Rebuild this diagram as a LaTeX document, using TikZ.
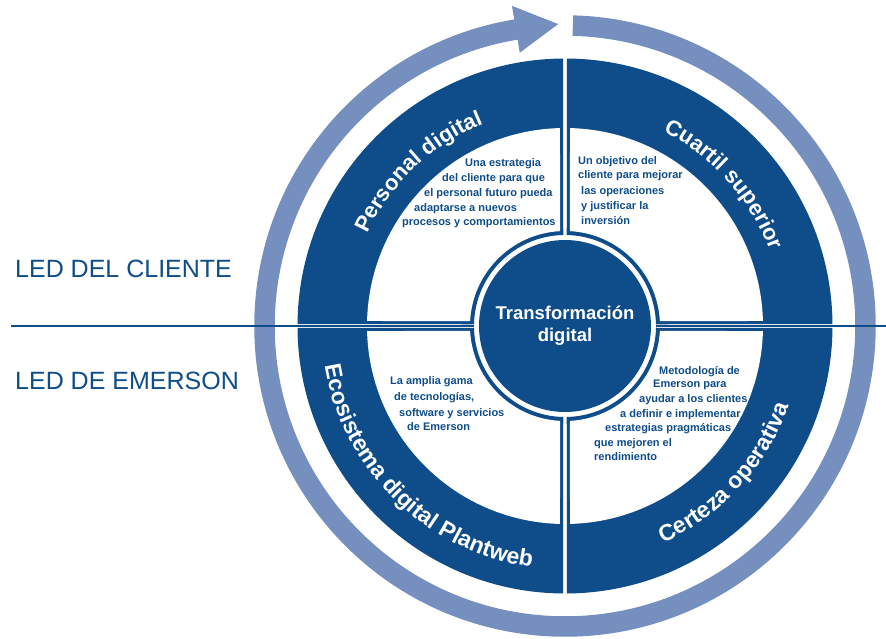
\documentclass[tikz,border=0pt]{standalone}
\usepackage{fontspec}
\setmainfont{Liberation Sans}
\usepackage{tikz}
\usetikzlibrary{decorations.text}
\definecolor{emblue}{RGB}{14,76,138}
\definecolor{ringblue}{RGB}{117,143,190}

\begin{document}
\begin{tikzpicture}[x=1pt,y=1pt,
		quad/.style = {fill=emblue},hole/.style = {fill=white},
		note/.style = {anchor=base west,inner sep=0pt,text=emblue,font=\fontsize{11}{13}\selectfont\bfseries},
		side/.style = {anchor=base west,inner sep=0pt,text=emblue,font=\fontsize{25}{30}\selectfont},
		band text/.style = {decorate,decoration={text along path,text align=center,text color=white}}
		]
		\useasboundingbox (-565,-312) rectangle (321,326);
		%ANELLO
		\draw[ringblue, line width=20.5] (88.5:300.5) arc[start angle=88.5, end angle=-260.9, radius=300.5];
		\fill[ringblue] (99.4:324.5) -- (91.3:302) -- (99.4:277) -- cycle;
		%LINEA
		\coordinate (lineL) at (-554,0);
		\coordinate (lineR) at (321,0);
		\draw[emblue, line width=1.3] (lineL) -- (lineR);
		\fill[white] (0,0) circle (91);
		%QUADRANTI
		\fill[quad] (89.6:267.5) arc[start angle=89.6, end angle=0.4, radius=267.5] -- (1.1:91) arc[start angle=1.1, end angle=88.9, radius=91] -- cycle;
		\fill[quad, rotate=90] (89.6:267.5) arc[start angle=89.6, end angle=0.4, radius=267.5] -- (1.1:91) arc[start angle=1.1, end angle=88.9, radius=91] -- cycle;
		\fill[quad, rotate=180] (89.6:267.5) arc[start angle=89.6, end angle=0.4, radius=267.5] -- (1.1:91) arc[start angle=1.1, end angle=88.9, radius=91] -- cycle;
		\fill[quad, rotate=270] (89.6:267.5) arc[start angle=89.6, end angle=0.4, radius=267.5] -- (1.1:91) arc[start angle=1.1, end angle=88.9, radius=91] -- cycle;
		\fill[hole] (88.55:198) arc[start angle=88.55, end angle=1.45, radius=198] -- (3:95) arc[start angle=3, end angle=87, radius=95] -- cycle;
		\fill[hole, rotate=90] (88.55:198) arc[start angle=88.55, end angle=1.45, radius=198] -- (3:95) arc[start angle=3, end angle=87, radius=95] -- cycle;
		\fill[hole, rotate=180] (88.55:198) arc[start angle=88.55, end angle=1.45, radius=198] -- (3:95) arc[start angle=3, end angle=87, radius=95] -- cycle;
		\fill[hole, rotate=270] (88.55:198) arc[start angle=88.55, end angle=1.45, radius=198] -- (3:95) arc[start angle=3, end angle=87, radius=95] -- cycle;
		%CERCHIO CENTRALE
		\node[circle, fill=emblue, minimum size=172, inner sep=0pt, text=white, align=center, font=\fontsize{18.5}{22}\selectfont\bfseries] (core) at (0,0) {Transformación\\digital};
		%TESTI CURVI
		\path[band text, decoration={text={|\fontsize{22}{22}\selectfont\bfseries|Personal digital}}] (175:218) arc[start angle=175, end angle=92, radius=218];
		\path[band text, decoration={text={|\fontsize{22}{22}\selectfont\bfseries|Cuartil superior}}] (83:218) arc[start angle=83, end angle=0.5, radius=218];
		\path[band text, decoration={text={|\fontsize{23}{23}\selectfont\bfseries|Ecosistema digital Plantweb}}] (170:243.5) arc[start angle=170, end angle=281.5, radius=243.5];
		\path[band text, decoration={text={|\fontsize{23}{23}\selectfont\bfseries|Certeza operativa}}] (-88:238) arc[start angle=-88, end angle=2.8, radius=238];
		%LATI
		\node[side] (client) at (-550,49) {LED DEL CLIENTE};
		\node[side] (emerson) at (-550,-63) {LED DE EMERSON};
		%Personal digital
		\node[note] (pd1) at (-100,159.5) {Una estrategia};
		\node[note] (pd2) at (-123,144.5) {del cliente para que};
		\node[note] (pd3) at (-141,129.5) {el personal futuro pueda};
		\node[note] (pd4) at (-151,114.5) {adaptarse a nuevos};
		\node[note] (pd5) at (-163,100.5) {procesos y comportamientos};
		%Cuartil superior
		\node[note] (cs1) at (13,161.5) {Un objetivo del};
		\node[note] (cs2) at (13,147.5) {cliente para mejorar};
		\node[note] (cs3) at (16,131.5) {las operaciones};
		\node[note] (cs4) at (16,116.5) {y justificar la};
		\node[note] (cs5) at (16,101.5) {inversión};
		%Ecosistema
		\node[note] (ed1) at (-175,-58.5) {La amplia gama};
		\node[note] (ed2) at (-171,-74.5) {de tecnologías,};
		\node[note] (ed3) at (-166,-90.5) {software y servicios};
		\node[note] (ed4) at (-158,-104.5) {de Emerson};
		%Certeza operativa
		\node[note] (co1) at (94,-48.5) {Metodología de};
		\node[note] (co2) at (88,-61.5) {Emerson para};
		\node[note] (co3) at (74,-76.5) {ayudar a los clientes};
		\node[note] (co4) at (55,-91.5) {a definir e implementar};
		\node[note] (co5) at (40,-105.5) {estrategias pragmáticas};
		\node[note] (co6) at (29,-120.5) {que mejoren el};
		\node[note] (co7) at (29,-134.5) {rendimiento};
	\end{tikzpicture}
\end{document}
